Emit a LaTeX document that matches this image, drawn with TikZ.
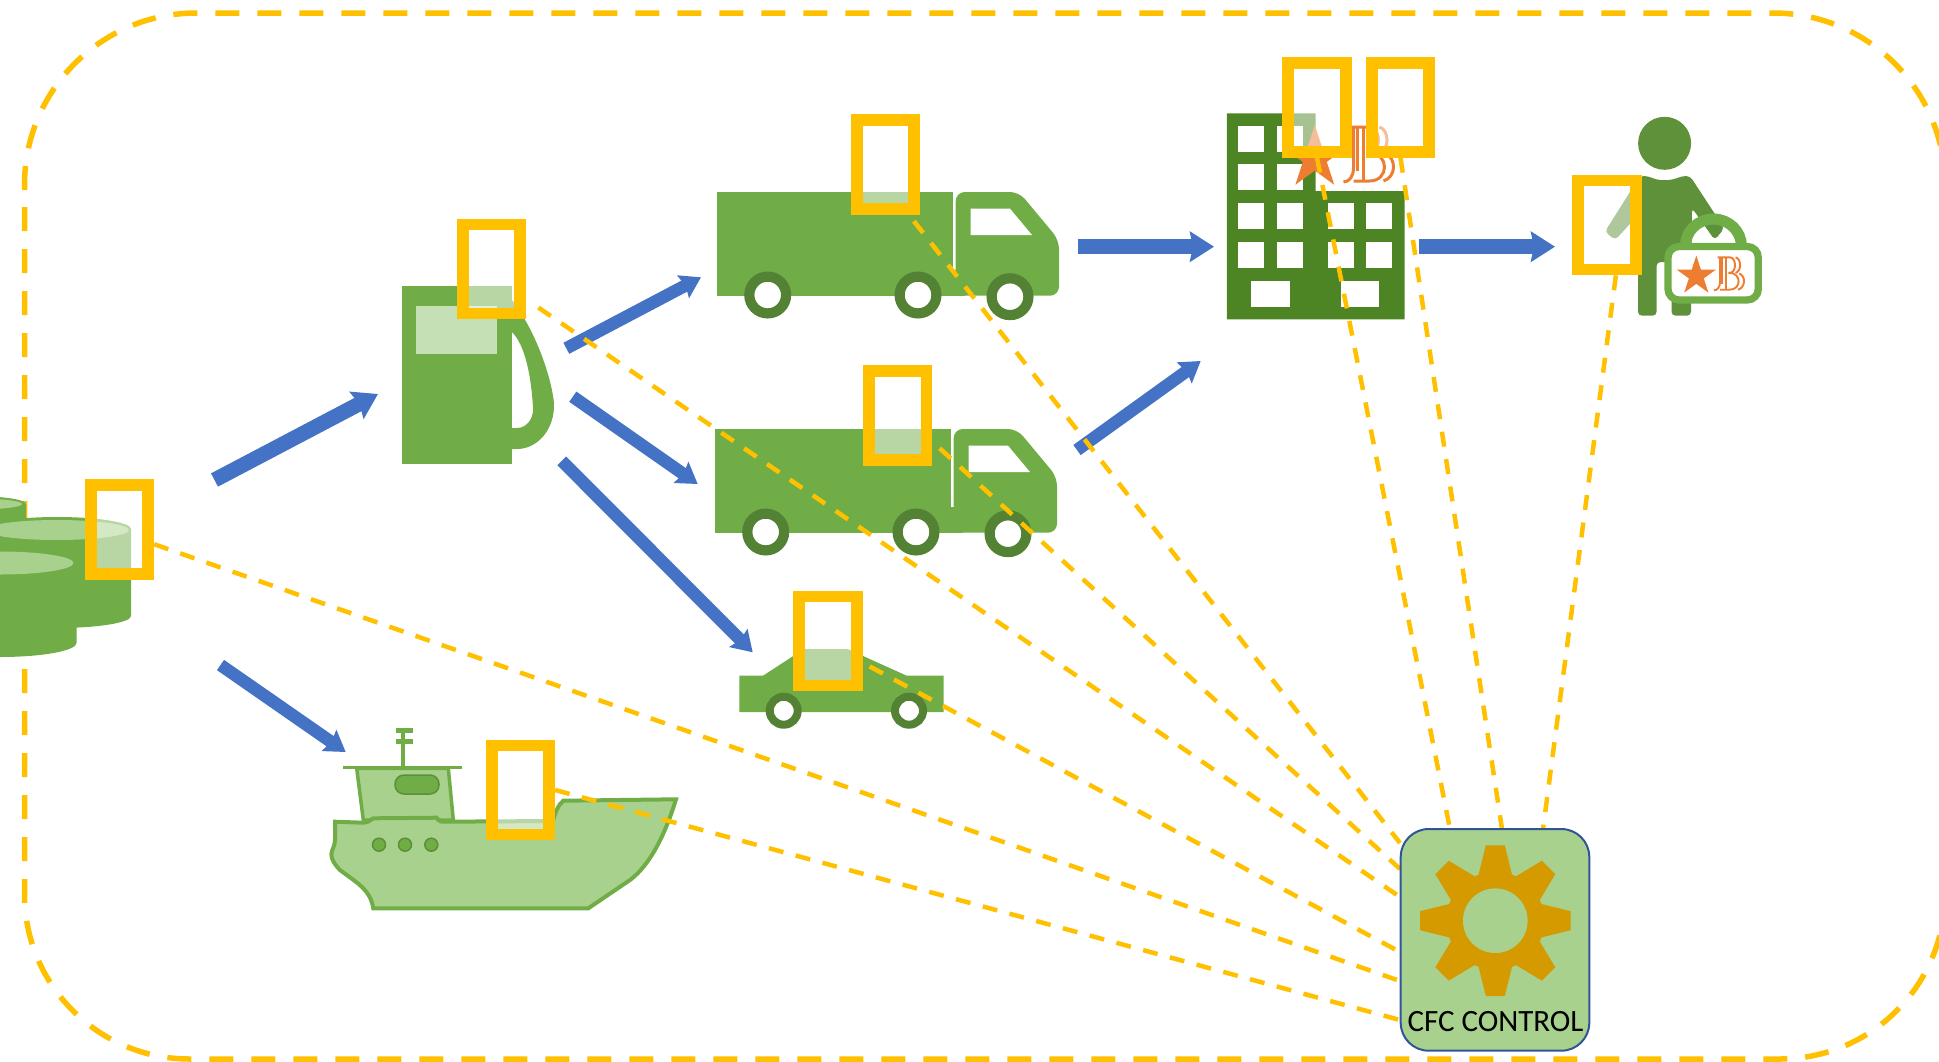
\documentclass[tikz,border=0pt]{standalone}
\usepackage{xcolor}
\usepackage{fontspec}
\usepackage{tikz}
\usetikzlibrary{arrows.meta, shapes.geometric}
\newfontfamily\cfcfont{Carlito}
\definecolor{tagyellow}{HTML}{FFC000}
\definecolor{flowblue}{HTML}{4472C4}
\definecolor{vesselgreen}{HTML}{70AD47}
\definecolor{palegreen}{HTML}{A9D18E}
\definecolor{screengreen}{HTML}{C5E0B4}
\definecolor{wheelgreen}{HTML}{548235}
\definecolor{hotelgreen}{HTML}{4E8524}
\definecolor{guestgreen}{HTML}{5E9139}
\definecolor{logoorange}{HTML}{ED7D31}
\definecolor{gearorange}{HTML}{D59A00}
\definecolor{cfcblue}{HTML}{2F5597}
\tikzset{
x=1pt, y=-1pt, % one unit is one pixel of the layout, y runs downwards
bigflow/.style={line width=15pt, draw=flowblue, -{Stealth[length=24pt,width=30pt,inset=3pt]}}, % thick arrows
flow/.style={line width=12.5pt, draw=flowblue, -{Stealth[length=20pt,width=25pt,inset=2.5pt]}}, % thin arrows
tag/.style={draw=tagyellow, line width=11.7pt, fill=white, fill opacity=0.5, inner sep=0pt, minimum width=57.5pt, minimum height=89pt}, % the yellow sensors
ctrl/.style={draw=tagyellow, line width=4.5pt, dash pattern=on 15pt off 12.7pt}, % lines to the control box
boundline/.style={draw=tagyellow, line width=5.5pt, dash pattern=on 24pt off 18pt}, % the outer dashed frame
wheel/.style={draw=wheelgreen, fill=white},
logostar/.style={star, star points=5, star point ratio=2.618, fill=logoorange, inner sep=0pt},
}
\newcommand{\lorry}[2]{
        \begin{scope}[shift={(#1,#2)}]
                \fill[vesselgreen] (717.3,192) rectangle (953,295.7);
                \fill[vesselgreen] (953,270) rectangle (965,295.7);
                \fill[vesselgreen, rounded corners=9pt] (955.7,295.7) -- (955.7,192) -- (1019,192) -- (1059,240) -- (1059,295.7) -- cycle;
                \fill[white] (970.7,208.7) -- (1010,208.7) -- (1032,235) -- (970.7,235) -- cycle;
                \draw[wheel, line width=10.2pt] (767.7,295) circle[radius=18.4pt];
                \draw[wheel, line width=10.2pt] (918,295) circle[radius=18.4pt];
                \draw[wheel, line width=10.2pt] (1010,296.7) circle[radius=18.4pt];
        \end{scope}
}
\newcommand{\jbmark}[4]{
        \begin{scope}[shift={(#1,#2)}, scale=#3, draw=logoorange, line width=#4]
                \draw (0,56) .. controls (6,56) and (10,50) .. (10,42) -- (10,1);
                \draw (14,1) -- (14,45);
                \draw (6,1) -- (26,1) .. controls (38,1) and (38,27) .. (26,27);
                \draw (20,1) -- (20,55);
                \draw (24,27) -- (26,27) .. controls (46,27) and (46,55) .. (26,55) -- (10,55);
                \draw (36,1) .. controls (46,4) and (46,24) .. (36,27);
                \draw (42,28) .. controls (53,32) and (53,51) .. (40,55);
        \end{scope}
}
\begin{document}
\begin{tikzpicture}
        \useasboundingbox (0,0) rectangle (1939,1061);
        \clip (0,0) rectangle (1939,1061);

        \draw[boundline, rounded corners=165pt] (24.5,207) -- (24.5,1059) -- (1945,1059) -- (1945,300);
        \draw[boundline, rounded corners=172pt] (24.5,190) -- (24.5,13) -- (1945,13) -- (1945,300);

        % barrels
        \fill[vesselgreen] (26,504) -- (26,560) -- (-80,560) -- (-80,504) arc[start angle=180, end angle=0, x radius=53pt, y radius=8pt];
        \fill[palegreen] (-25,504) ellipse[x radius=47pt, y radius=5.5pt];
        \fill[vesselgreen] (131,529) -- (131,616) arc[start angle=0, end angle=-180, x radius=74pt, y radius=12pt] -- (-17,529) arc[start angle=180, end angle=0, x radius=74pt, y radius=12pt];
        \fill[palegreen] (57,530) ellipse[x radius=72pt, y radius=10pt];
        \fill[vesselgreen] (76.5,563) -- (76.5,643) arc[start angle=0, end angle=-180, x radius=76.5pt, y radius=14pt] -- (-76.5,563) arc[start angle=180, end angle=0, x radius=76.5pt, y radius=12pt];
        \fill[palegreen] (0,563) ellipse[x radius=73.5pt, y radius=11.5pt];

        % pump
        \fill[vesselgreen] (402,286) rectangle (512,464);
        \fill[vesselgreen] (512,300) .. controls (535,330) and (551,375) .. (554,403) .. controls (555,430) and (537,449) .. (517,449) -- (512,449) -- (512,428) -- (517,428) .. controls (527,428) and (534,418) .. (533,407) .. controls (531,375) and (525,345) .. (512,332) -- cycle;
        \fill[screengreen] (416.4,306) rectangle (497,354);

        \lorry{0}{0}
        \lorry{-2}{237}

        % car
        \fill[vesselgreen] (739.3,675.7) -- (763,675.7) -- (804,649) -- (847.5,649) -- (906.7,675.7) -- (943.7,675.7) -- (943.7,712) -- (739.3,712) -- cycle;
        \draw[wheel, line width=8pt] (783.7,710.7) circle[radius=14pt];
        \draw[wheel, line width=8pt] (909,710.7) circle[radius=14pt];

        % ship
        \draw[vesselgreen, line width=3pt] (342.7,767.3) -- (461.7,767.3);
        \draw[vesselgreen, line width=4pt] (403.3,767) -- (403.3,730);
        \draw[vesselgreen, line width=5pt] (396,730.7) -- (412.7,730.7) (396,741.7) -- (412.7,741.7);
        \draw[vesselgreen, fill=palegreen, line width=3.5pt] (356.7,768.3) -- (448.3,768.3) -- (453.3,820) -- (363.3,820) -- cycle;
        \draw[wheelgreen!70!vesselgreen, fill=vesselgreen, line width=1.5pt, rounded corners=9pt] (395,775) rectangle (439,794);
        \draw[vesselgreen, fill=palegreen, line width=4pt] (335,821.7) -- (363.3,822.7) .. controls (368,822) .. (373.3,818.3) -- (436.7,817.7) .. controls (438,820) .. (441.7,821.7) -- (553,821) .. controls (555,813) and (558,805) .. (563.3,800.7) -- (676,799.3) .. controls (665,835) and (650,865) .. (630,880) -- (588.3,908.3) -- (373.3,908.3) .. controls (370,890) and (360,885) .. (340,870) .. controls (332,862) and (330,855) .. (332.3,850) .. controls (336,842) and (335,838) .. (335,821.7) -- cycle;
        \foreach \xx in {379,405,431.3} {
                \draw[wheelgreen!70!vesselgreen, fill=vesselgreen, line width=1.5pt] (\xx,844.7) circle[radius=6.5pt];
        }

        % hotel
        \fill[hotelgreen] (1226.8,113.3) -- (1315.6,113.3) -- (1315.6,191) -- (1404.7,191) -- (1404.7,319.3) -- (1226.8,319.3) -- cycle;
        \foreach \xa/\xb in {1238.3/1264.3, 1276.5/1302.6} {
                \foreach \ya/\yb in {126/151.7, 164.3/190, 203.3/229.3, 242/268} {
                        \fill[white] (\xa,\ya) rectangle (\xb,\yb);
                }
        }
        \foreach \xa/\xb in {1328.2/1353.8, 1365.7/1391.7} {
                \foreach \ya/\yb in {203.3/229.3, 242/268} {
                        \fill[white] (\xa,\ya) rectangle (\xb,\yb);
                }
        }
        \fill[white] (1250.9,280.7) rectangle (1290,306.7);
        \fill[white] (1340.5,280.7) rectangle (1379,306.7);
        \node[logostar, minimum size=66pt] (hotelstar) at (1314.8,158) {};
        \jbmark{1343.5}{126}{1}{3pt}

        % guest with suitcase
        \fill[guestgreen] (1664.6,143.3) circle[radius=26.5pt];
        \fill[guestgreen, rounded corners=4pt] (1640,176) .. controls (1650,176) and (1655,180) .. (1664.6,180) .. controls (1674,180) and (1680,176) .. (1690,176) -- (1724.3,228.3) -- (1714.7,240) -- (1692,208) -- (1691,315.7) -- (1671.5,315.7) -- (1671.5,262) -- (1656.6,262) -- (1656.6,315.7) -- (1638,315.7) -- (1638,215) -- (1615.2,240) -- (1604.9,231.7) -- cycle;
        \draw[vesselgreen, line width=11pt] (1685.4,246) arc[start angle=180, end angle=0, x radius=28pt, y radius=27pt];
        \draw[vesselgreen, fill=white, line width=7.3pt, rounded corners=11pt] (1668,246.5) rectangle (1758.3,300);
        \node[logostar, minimum size=41pt] (casestar) at (1696.3,276) {};
        \jbmark{1714}{256.7}{0.6}{1.9pt}

        \node[tag] (tagbarrels) at (119.5,529.5) {};
        \node[tag] (tagpump) at (491.4,269) {};
        \node[tag] (tagtruckA) at (885.5,164.5) {};
        \node[tag] (tagtruckB) at (897.7,415.5) {};
        \node[tag] (tagcar) at (828,641) {};
        \node[tag] (tagship) at (520.5,790) {};
        \node[tag] (taghotelA) at (1317,107.5) {};
        \node[tag] (taghotelB) at (1400.5,107.5) {};
        \node[tag] (tagguest) at (1607,225) {};

        \coordinate (barrelsA) at (214.5,480);
        \coordinate (pumpin) at (378,394);
        \coordinate (barrelsB) at (220.5,665);
        \coordinate (shipin) at (345.7,752);
        \coordinate (pumpA) at (566.3,348.3);
        \coordinate (truckAin) at (701,277.3);
        \coordinate (pumpB) at (572.8,396.7);
        \coordinate (truckBin) at (697.7,484);
        \coordinate (pumpC) at (561.7,460.8);
        \coordinate (carin) at (752.7,652.3);
        \coordinate (truckAout) at (1077.7,246.7);
        \coordinate (hotelinA) at (1214,246.7);
        \coordinate (truckBout) at (1077,450);
        \coordinate (hotelinB) at (1200.7,361);
        \coordinate (hotelout) at (1419,246.7);
        \coordinate (guestin) at (1555,246.7);

        \draw (barrelsA) edge[bigflow] (pumpin)
              (barrelsB) edge[flow] (shipin)
              (pumpA) edge[flow] (truckAin)
              (pumpB) edge[flow] (truckBin)
              (pumpC) edge[flow] (carin)
              (truckAout) edge[bigflow] (hotelinA)
              (truckBout) edge[flow] (hotelinB)
              (hotelout) edge[bigflow] (guestin);

        \coordinate (cfcA) at (1400,843);
        \coordinate (cfcB) at (1400,869);
        \coordinate (cfcC) at (1400,897);
        \coordinate (cfcD) at (1400,952);
        \coordinate (cfcE) at (1400,981);
        \coordinate (cfcF) at (1400,1020);
        \coordinate (cfcG) at (1450,829);
        \coordinate (cfcH) at (1502,829);
        \coordinate (cfcI) at (1543,829);

        \draw (tagtruckA.-65) edge[ctrl, shorten <=8pt] (cfcA)
              (tagtruckB.-37) edge[ctrl, shorten <=10pt] (cfcB)
              (tagpump.-41) edge[ctrl, shorten <=15pt] (cfcC)
              (tagcar.-32) edge[ctrl, shorten <=8pt] (cfcD)
              (tagbarrels.-23) edge[ctrl] (cfcE)
              (tagship.east) edge[ctrl] (cfcF)
              (taghotelA.south) edge[ctrl] (cfcG)
              (taghotelB.south) edge[ctrl] (cfcH)
              (tagguest.-80) edge[ctrl] (cfcI);

        \node[draw=cfcblue, fill=palegreen, line width=2pt, rounded corners=28pt, inner sep=0pt, minimum width=188.6pt, minimum height=221.7pt] (cfc) at (1495,939.85) {};
        \begin{scope}[shift={(1495.3,920.7)}]
                \foreach \a in {0,45,...,315} {
                        \fill[gearorange, rotate=\a] (-17,-45) -- (-9.5,-75.3) -- (9.5,-75.3) -- (17,-45) -- cycle;
                }
                \fill[gearorange] (0,0) circle[radius=49pt];
                \fill[palegreen] (0,0) circle[radius=32.3pt];
        \end{scope}
        \node[font=\cfcfont\fontsize{31}{33}\selectfont, inner sep=0pt] (cfclabel) at (1495.5,1021.7) {CFC CONTROL};
\end{tikzpicture}
\end{document}
